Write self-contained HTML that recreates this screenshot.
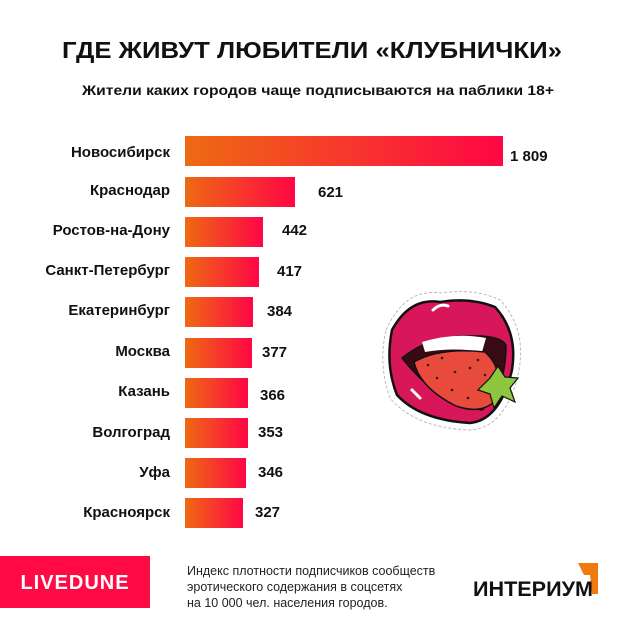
<!DOCTYPE html>
<html><head><meta charset="utf-8"><style>
html,body{margin:0;padding:0;background:#fff;}
svg{display:block;font-family:"Liberation Sans",sans-serif;}
</style></head><body>
<svg width="620" height="620" viewBox="0 0 620 620" xmlns="http://www.w3.org/2000/svg">
<defs>
<linearGradient id="g" x1="0" x2="1" y1="0" y2="0">
<stop offset="0" stop-color="#ee6a12"/><stop offset="1" stop-color="#ff0645"/>
</linearGradient>
</defs>
<text x="312" y="58" text-anchor="middle" font-size="23" font-weight="bold" fill="#111" textLength="500" lengthAdjust="spacingAndGlyphs">ГДЕ ЖИВУТ ЛЮБИТЕЛИ «КЛУБНИЧКИ»</text>
<text x="318" y="95" text-anchor="middle" font-size="13.5" font-weight="bold" fill="#111" textLength="472" lengthAdjust="spacingAndGlyphs">Жители каких городов чаще подписываются на паблики 18+</text>
<g font-size="15" font-weight="bold" fill="#111">
<rect x="185" y="136" width="318" height="30" fill="url(#g)"/><text x="170" y="157" text-anchor="end">Новосибирск</text><text x="510" y="161">1 809</text>
<rect x="185" y="177" width="110" height="30" fill="url(#g)"/><text x="170" y="195" text-anchor="end">Краснодар</text><text x="318" y="197">621</text>
<rect x="185" y="217" width="78" height="30" fill="url(#g)"/><text x="170" y="235" text-anchor="end">Ростов-на-Дону</text><text x="282" y="235">442</text>
<rect x="185" y="257" width="74" height="30" fill="url(#g)"/><text x="170" y="275" text-anchor="end">Санкт-Петербург</text><text x="277" y="276">417</text>
<rect x="185" y="297" width="68" height="30" fill="url(#g)"/><text x="170" y="315" text-anchor="end">Екатеринбург</text><text x="267" y="316">384</text>
<rect x="185" y="338" width="67" height="30" fill="url(#g)"/><text x="170" y="356" text-anchor="end">Москва</text><text x="262" y="357">377</text>
<rect x="185" y="378" width="63" height="30" fill="url(#g)"/><text x="170" y="396" text-anchor="end">Казань</text><text x="260" y="400">366</text>
<rect x="185" y="418" width="63" height="30" fill="url(#g)"/><text x="170" y="437" text-anchor="end">Волгоград</text><text x="258" y="437">353</text>
<rect x="185" y="458" width="61" height="30" fill="url(#g)"/><text x="170" y="477" text-anchor="end">Уфа</text><text x="258" y="477">346</text>
<rect x="185" y="498" width="58" height="30" fill="url(#g)"/><text x="170" y="517" text-anchor="end">Красноярск</text><text x="255" y="517">327</text>
</g>
<!-- lips -->
<g>
<path d="M386 330 Q405 288 440 293 Q475 288 500 300 Q528 330 518 375 Q505 428 470 430 Q415 428 390 398 Q378 365 386 330Z" fill="#fff" stroke="#bbb" stroke-dasharray="3 2"/>
<path d="M392 330 Q410 297 440 302 Q470 297 495 307 Q518 332 512 370 Q500 420 470 423 Q420 420 397 395 Q385 365 392 330Z" fill="#d8175a" stroke="#111" stroke-width="2.5"/>
<path d="M402 358 Q430 335 470 336 Q500 335 506 345 Q506 390 482 410 Q440 406 402 358Z" fill="#3a0a14" stroke="#111" stroke-width="1.5"/>
<path d="M422 342 Q455 332 486 338 L482 352 Q455 347 425 352Z" fill="#fff"/>
<path d="M414 362 Q440 347 485 352 Q505 370 496 400 Q482 415 456 406 Q420 388 414 362Z" fill="#e84a3c" stroke="#111" stroke-width="1.5"/>
<g fill="#222"><circle cx="428" cy="365" r="1.3"/><circle cx="442" cy="358" r="1.3"/><circle cx="455" cy="372" r="1.3"/><circle cx="470" cy="368" r="1.3"/><circle cx="437" cy="378" r="1.3"/><circle cx="452" cy="390" r="1.3"/><circle cx="468" cy="398" r="1.3"/><circle cx="485" cy="375" r="1.3"/><circle cx="478" cy="360" r="1.3"/></g>
<path d="M433 310 Q440 303 448 306" stroke="#fff" stroke-width="3" fill="none" stroke-linecap="round"/>
<path d="M412 390 L420 398" stroke="#fff" stroke-width="3" fill="none" stroke-linecap="round"/>
<path d="M490 378 L498 366 L505 377 L518 378 L510 388 L515 402 L502 396 L494 408 L490 394 L478 390Z" fill="#8dc63f" stroke="#111" stroke-width="1.2"/>
</g>
<!-- footer -->
<rect x="0" y="556" width="150" height="52" fill="#ff0a45"/>
<text x="75" y="589" text-anchor="middle" font-size="20" font-weight="bold" fill="#fff" letter-spacing="1">LIVEDUNE</text>
<g font-size="12.5" fill="#222">
<text x="187" y="575">Индекс плотности подписчиков сообществ</text>
<text x="187" y="591">эротического содержания в соцсетях</text>
<text x="187" y="607">на 10 000 чел. населения городов.</text>
</g>
<path d="M578 563 L598 563 L598 594 L592 594 L590 575 L584 575Z" fill="#f07a10"/>
<text x="473" y="596" font-size="21" font-weight="bold" fill="#111" textLength="120" lengthAdjust="spacingAndGlyphs">ИНТЕРИУМ</text>
</svg>
</body></html>
